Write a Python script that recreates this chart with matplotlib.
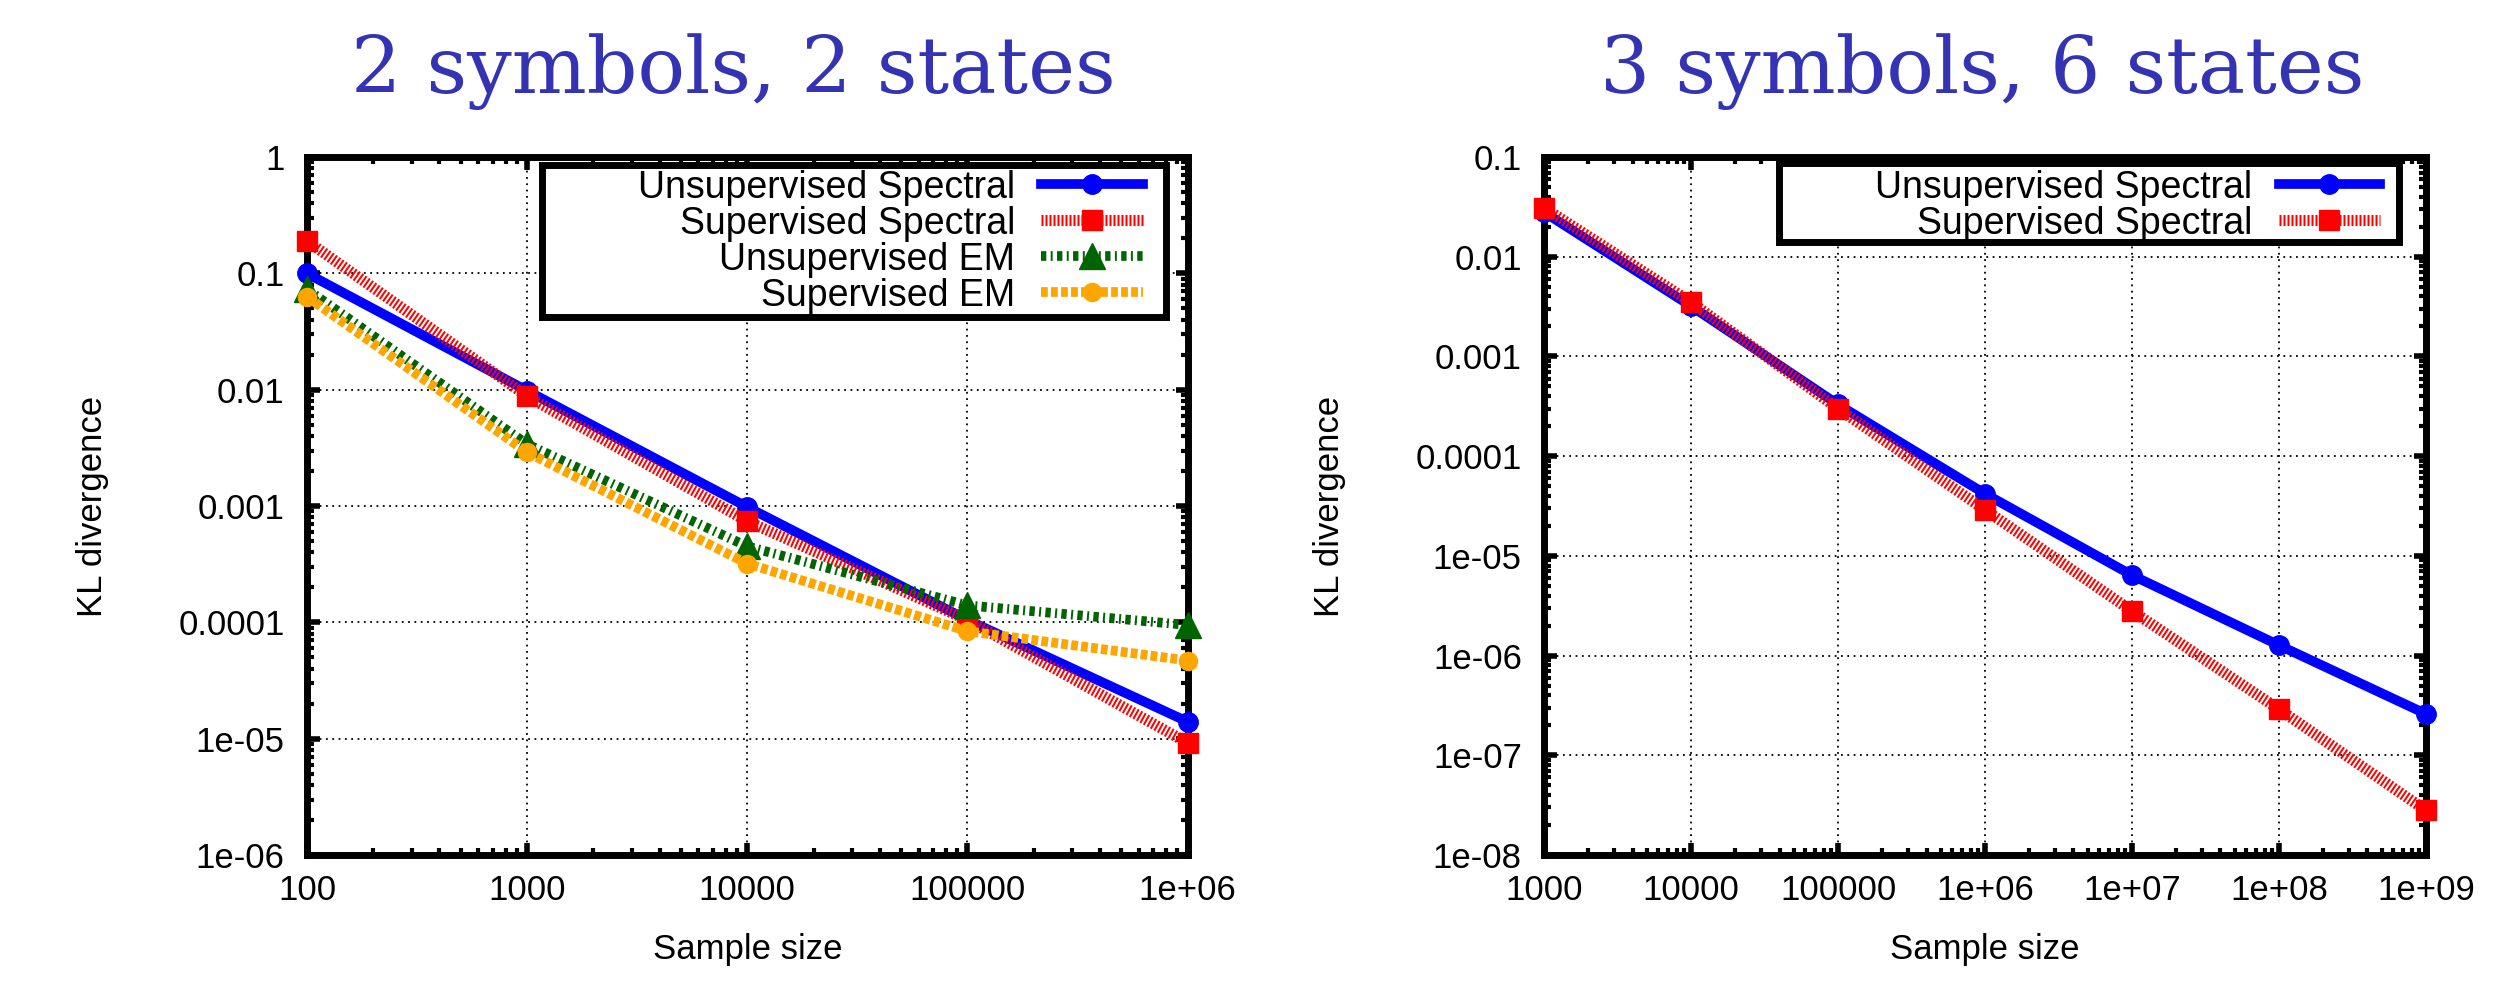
import matplotlib
matplotlib.use("Agg")
import matplotlib.pyplot as plt
from matplotlib.patches import Rectangle
from matplotlib.ticker import FixedLocator, FixedFormatter, LogLocator, NullFormatter

plt.rcParams['font.family'] = ['Liberation Sans', 'DejaVu Sans']

# 2 symbols, 2 states
x_left = [100, 1000, 10000, 100000, 1000000]
unsup_spec_left = [0.1, 0.0098, 0.00098, 0.000105, 1.4e-5]
sup_spec_left = [0.19, 0.0088, 0.00074, 0.000105, 9.2e-6]
unsup_em_left = [0.073, 0.0034, 0.00045, 0.00014, 9.5e-5]
sup_em_left = [0.063, 0.0029, 0.00032, 8.4e-5, 4.7e-5]
xticks_left = [100, 1000, 10000, 100000, 1000000]
xlabels_left = ["100", "1000", "10000", "100000", "1e+06"]
yticks_left = [1, 0.1, 0.01, 0.001, 0.0001, 1e-5, 1e-6]
ylabels_left = ["1", "0.1", "0.01", "0.001", "0.0001", "1e-05", "1e-06"]

# 3 symbols, 6 states
x_right = [1e3, 1e4, 1e5, 1e6, 1e7, 1e8, 1e9]
unsup_spec_right = [0.028, 0.0032, 0.00033, 4.2e-5, 6.4e-6, 1.27e-6, 2.6e-7]
sup_spec_right = [0.031, 0.0035, 0.0003, 2.9e-5, 2.8e-6, 2.9e-7, 2.8e-8]
xticks_right = [1e3, 1e4, 1e5, 1e6, 1e7, 1e8, 1e9]
xlabels_right = ["1000", "10000", "100000", "1e+06", "1e+07", "1e+08", "1e+09"]
yticks_right = [0.1, 0.01, 0.001, 0.0001, 1e-5, 1e-6, 1e-7, 1e-8]
ylabels_right = ["0.1", "0.01", "0.001", "0.0001", "1e-05", "1e-06", "1e-07", "1e-08"]

names = ["Unsupervised Spectral", "Supervised Spectral", "Unsupervised EM", "Supervised EM"]

styles = [
    dict(color='#0000ff', lw=7, ls='-', marker='o', ms=14),
    dict(color='#ff0000', lw=8, ls=(0, (0.18, 0.18)), marker='s', ms=15),
    dict(color='#006400', lw=7, ls=(0, (0.55, 0.45, 0.2, 0.45)), marker='^', ms=19),
    dict(color='#ffa500', lw=7, ls=(0, (0.7, 0.33)), marker='o', ms=13),
]

FS = 25
LEG_FS = 27

fig = plt.figure(figsize=(25.16, 9.81), dpi=100)
ax1 = fig.add_axes([0.122, 0.1284, 0.350, 0.7115])
ax2 = fig.add_axes([0.6137, 0.1284, 0.3505, 0.7115])


def style_axes(ax, xlim, ylim, xt, xl, yt, yl):
    ax.set_xscale('log')
    ax.set_yscale('log')
    ax.set_xlim(*xlim)
    ax.set_ylim(*ylim)
    ax.xaxis.set_major_locator(FixedLocator(xt))
    ax.xaxis.set_major_formatter(FixedFormatter(xl))
    ax.yaxis.set_major_locator(FixedLocator(yt))
    ax.yaxis.set_major_formatter(FixedFormatter(yl))
    ax.xaxis.set_minor_locator(LogLocator(base=10, subs=range(2, 10), numticks=20))
    ax.yaxis.set_minor_locator(LogLocator(base=10, subs=range(2, 10), numticks=20))
    ax.xaxis.set_minor_formatter(NullFormatter())
    ax.yaxis.set_minor_formatter(NullFormatter())
    ax.tick_params(which='major', direction='in', length=9, width=4,
                   top=True, right=True, labelsize=FS)
    ax.tick_params(which='minor', direction='in', length=5, width=3,
                   top=True, right=True)
    ax.tick_params(axis='y', which='major', pad=16)
    ax.tick_params(axis='x', which='major', pad=14)
    for s in ax.spines.values():
        s.set_linewidth(5)
    ax.grid(True, which='major', color='black', linestyle=(0, (1, 2.5)), linewidth=1.3)
    ax.set_axisbelow(True)
    ax.set_xlabel("Sample size", fontsize=FS)
    ax.set_ylabel("KL divergence", fontsize=FS)
    ax.xaxis.set_label_coords(0.5, -0.136)
    ax.xaxis.label.set_va('center')
    ax.yaxis.set_label_coords(-0.243, 0.5)
    ax.yaxis.label.set_va('center')


def add_legend(ax, frame, anchor):
    # frame drawn as plain box behind the legend entries
    x0, y0, x1, y1 = frame
    ax.add_patch(Rectangle((x0, y0), x1 - x0, y1 - y0, transform=ax.transAxes,
                           facecolor='white', edgecolor='black', lw=5,
                           zorder=6, clip_on=False))
    leg = ax.legend(loc='upper right', bbox_to_anchor=anchor, frameon=False,
                    markerfirst=False, numpoints=1, fontsize=LEG_FS,
                    handlelength=2.7, handletextpad=0.7, labelspacing=0.0,
                    borderpad=0, borderaxespad=0)
    leg.set_zorder(7)


series_left = [unsup_spec_left, sup_spec_left, unsup_em_left, sup_em_left]
for name, ys, st in zip(names, series_left, styles):
    ax1.plot(x_left, ys, label=name, color=st['color'], lw=st['lw'], ls=st['ls'],
             marker=st['marker'], ms=st['ms'], dash_capstyle='butt',
             clip_on=False, zorder=3)
style_axes(ax1, (100, 1e6), (1e-6, 1), xticks_left, xlabels_left, yticks_left, ylabels_left)
add_legend(ax1, (0.267, 0.771, 0.976, 0.9885), (0.949, 0.982))

series_right = [unsup_spec_right, sup_spec_right]
for name, ys, st in zip(names[:2], series_right, styles[:2]):
    ax2.plot(x_right, ys, label=name, color=st['color'], lw=st['lw'], ls=st['ls'],
             marker=st['marker'], ms=st['ms'], dash_capstyle='butt',
             clip_on=False, zorder=3)
style_axes(ax2, (1e3, 1e9), (1e-8, 0.1), xticks_right, xlabels_right, yticks_right, ylabels_right)
add_legend(ax2, (0.266, 0.878, 0.969, 0.991), (0.948, 0.982))

for ax, title, tx in [(ax1, "2 symbols, 2 states", 0.484), (ax2, "3 symbols, 6 states", 0.497)]:
    ax.set_title(title, fontsize=57, color='#3333b3', pad=46, family='DejaVu Serif', x=tx)

fig.savefig("out.png", dpi=100)
